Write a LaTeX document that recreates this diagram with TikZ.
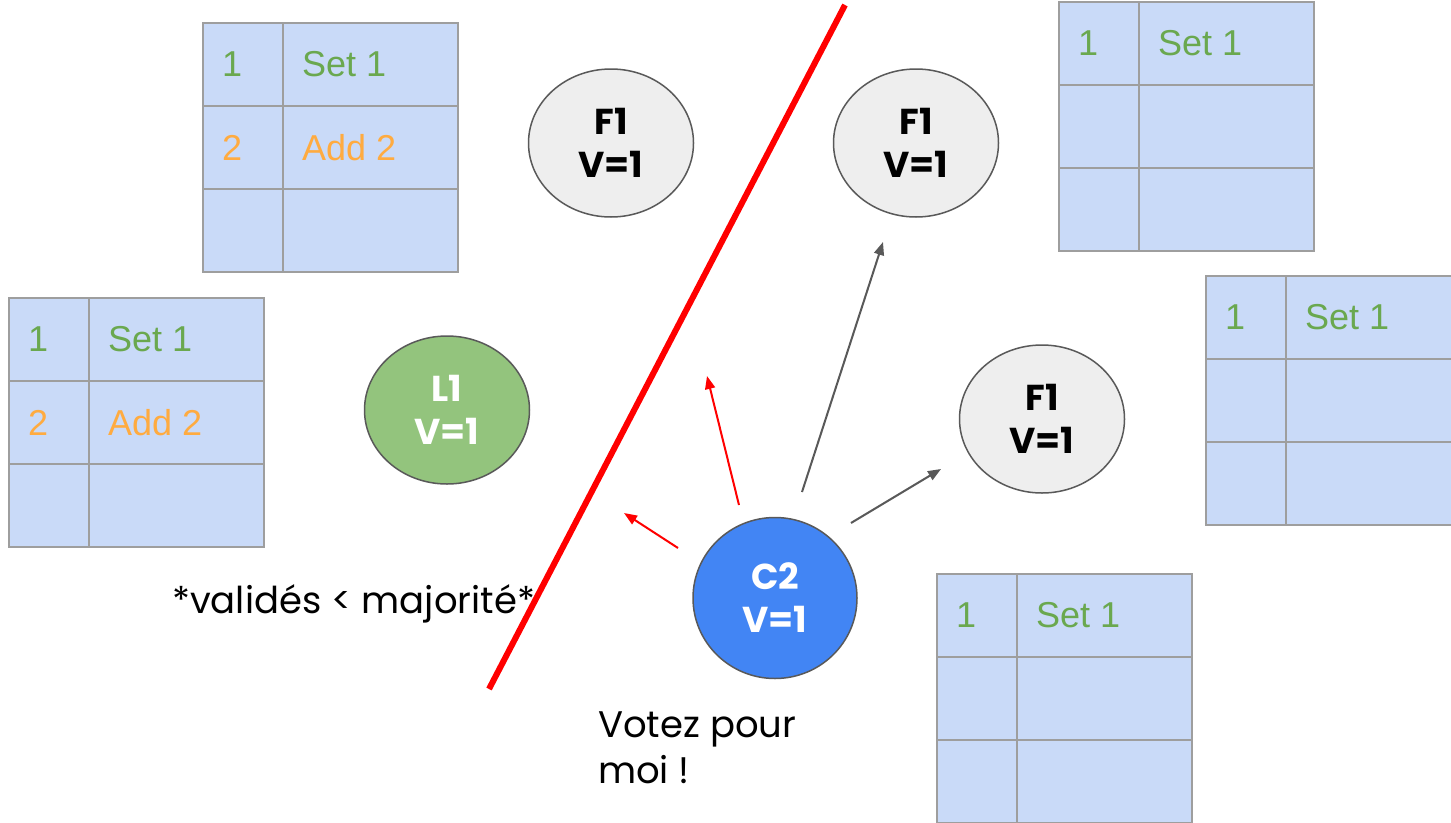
\documentclass[tikz,border=0pt]{standalone}
\usepackage{fontspec}
\setmainfont{Poppins}
\newfontfamily\tablefont{Liberation Sans}
\newfontfamily\nodefont{Poppins}[UprightFont=* Bold]
\usetikzlibrary{shapes.geometric,arrows.meta}
\definecolor{tblfill}{HTML}{C9DAF8}
\definecolor{tblline}{HTML}{9E9E9E}
\definecolor{setgreen}{HTML}{6AA84F}
\definecolor{addorange}{HTML}{FFAB40}
\definecolor{folfill}{HTML}{EEEEEE}
\definecolor{edgegray}{HTML}{595959}
\definecolor{leadfill}{HTML}{93C47D}
\definecolor{candfill}{HTML}{4285F4}
\definecolor{cutred}{HTML}{FF0000}
\tikzset{
  tblbox/.style={fill=tblfill,draw=tblline,line width=2pt},
  tblrule/.style={draw=tblline,line width=2pt},
  cell/.style={anchor=west,inner sep=0pt,font=\tablefont\fontsize{36}{42}\selectfont},
  srv/.style={ellipse,draw=edgegray,line width=1.5pt,minimum width=165pt,minimum height=148pt,inner sep=0pt,align=center,font=\nodefont\fontsize{36}{43}\selectfont},
  follower/.style={srv,fill=folfill,text=black},
  leader/.style={srv,fill=leadfill,text=white},
  candidate/.style={srv,fill=candfill,text=white,minimum height=161pt,minimum width=164pt},
  redarrow/.style={draw=cutred,line width=2pt,-{Triangle[length=13pt,width=10pt]}},
  grayarrow/.style={draw=edgegray,line width=2pt,-{Triangle[length=13pt,width=10pt]}},
  label/.style={anchor=base west,inner sep=0pt,font=\fontsize{37}{46}\selectfont}
}
\newcommand{\rafttable}[5]{%
  \begin{scope}[shift={(#1,#2)}]
    \path[tblbox] (0,0) rectangle (255,249);
    \draw[tblrule] (80,0) -- (80,249);
    \draw[tblrule] (0,83) -- (255,83) (0,166) -- (255,166);
    \node[cell,text=setgreen] (#3a) at (19,41.5) {1};
    \node[cell,text=setgreen] (#3b) at (99,41.5) {Set 1};
    \node[cell,text=addorange] (#3c) at (19,124.5) {#4};
    \node[cell,text=addorange] (#3d) at (99,124.5) {#5};
  \end{scope}}
\begin{document}
\begin{tikzpicture}[x=1pt,y=-1pt]
  \useasboundingbox (0,0) rectangle (1451,822);
  \clip (0,0) rectangle (1451,822);
  \fill[white] (0,0) rectangle (1451,822);
  % tables
  \rafttable{203}{23}{ta}{2}{Add 2}
  \rafttable{9}{298}{tb}{2}{Add 2}
  \rafttable{1059}{2}{tc}{}{}
  \rafttable{1206}{276}{td}{}{}
  \rafttable{937}{574}{te}{}{}
  % partition line
  \coordinate (cutA) at (845,5);
  \coordinate (cutB) at (489,689);
  \draw[cutred,line width=6pt] (cutA) -- (cutB);
  % servers
  \node[follower] (f1) at (611,143) {F1\\V=1};
  \node[follower] (f2) at (916,143) {F1\\V=1};
  \node[leader] (l1) at (447,410) {L1\\V=1};
  \node[follower] (f3) at (1042,419) {F1\\V=1};
  \node[candidate] (c2) at (775,598) {C2\\V=1};
  % vote requests
  \coordinate (r1s) at (678,548);
  \coordinate (r1e) at (624,513);
  \coordinate (r2s) at (739,505);
  \coordinate (r2e) at (707,376);
  \coordinate (g1s) at (802,492);
  \coordinate (g1e) at (883,242);
  \coordinate (g2s) at (851,523);
  \coordinate (g2e) at (941,469);
  \draw[redarrow] (r1s) -- (r1e);
  \draw[redarrow] (r2s) -- (r2e);
  \draw[grayarrow] (g1s) -- (g1e);
  \draw[grayarrow] (g2s) -- (g2e);
  % labels
  \node[label] (maj) at (172,613) {*validés < majorité*};
  \node[label] (vote1) at (598,737) {Votez pour};
  \node[label] (vote2) at (598,783) {moi !};
\end{tikzpicture}
\end{document}
